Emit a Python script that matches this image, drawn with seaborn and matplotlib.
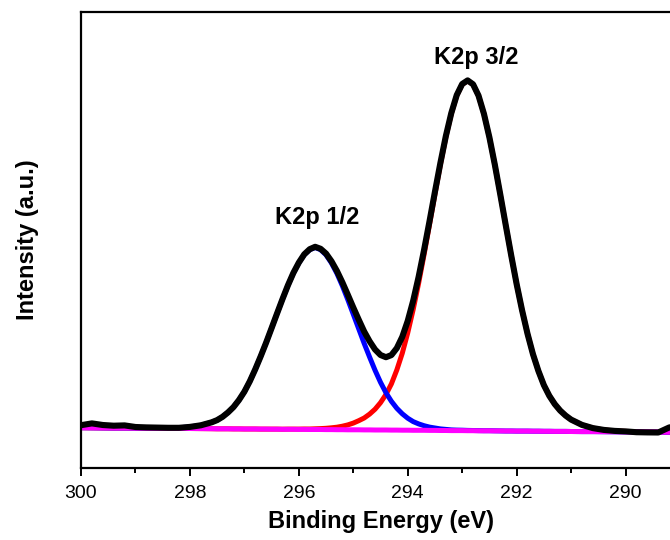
import numpy as np
import pandas as pd
import matplotlib
matplotlib.use("Agg")
import matplotlib.pyplot as plt
from matplotlib.ticker import MultipleLocator
import seaborn as sns

# Binding energy grid (eV): coarse in the flat tails, 0.1 eV across the K2p doublet
energy = np.round(np.r_[np.arange(300.0, 297.55, -0.2),
                        np.arange(297.5, 290.95, -0.1),
                        np.arange(290.8, 288.75, -0.2)], 1)

# Linear background under the doublet
background = [
    40.3, 40.2, 40.1, 40.0, 40.0, 39.9, 39.8, 39.7, 39.6, 39.5, 39.5, 39.4, 39.3,
    39.2, 39.2, 39.2, 39.1, 39.1, 39.0, 39.0, 39.0, 38.9, 38.9,
    38.8, 38.8, 38.7, 38.7, 38.7, 38.6, 38.6, 38.5, 38.5, 38.5,
    38.4, 38.4, 38.3, 38.3, 38.2, 38.2, 38.2, 38.1, 38.1, 38.0,
    38.0, 38.0, 37.9, 37.9, 37.8, 37.8, 37.7, 37.7, 37.7, 37.6,
    37.6, 37.5, 37.5, 37.4, 37.4, 37.4, 37.3, 37.3, 37.2, 37.2,
    37.2, 37.1, 37.1, 37.0, 37.0, 36.9, 36.9, 36.9, 36.8, 36.8,
    36.7, 36.7, 36.6, 36.6, 36.6, 36.5,
    36.4, 36.4, 36.3, 36.2, 36.1, 36.0, 35.9, 35.9, 35.8, 35.7, 35.6,
]

# K2p 1/2 fitted component (height above background)
k2p_half = [
    0.0, 0.0, 0.0, 0.0, 0.0, 0.0, 0.1, 0.2, 0.4, 0.7, 1.6, 3.3, 6.4,
    8.7, 12.0, 16.4, 21.8, 28.8, 37.3, 47.7, 59.7, 72.8, 86.5,
    101.0, 115.6, 130.1, 143.8, 156.2, 166.5, 174.7, 179.8, 182.0, 179.8,
    174.7, 166.5, 156.2, 143.8, 130.1, 115.6, 101.0, 86.5, 72.8, 59.7,
    47.7, 37.3, 28.8, 21.8, 16.4, 12.0, 8.7, 6.4, 4.6, 3.3,
    2.4, 1.6, 1.1, 0.7, 0.5, 0.4, 0.3, 0.2, 0.2, 0.1,
    0.1, 0.1, 0.0, 0.0, 0.0, 0.0, 0.0, 0.0, 0.0, 0.0,
    0.0, 0.0, 0.0, 0.0, 0.0, 0.0,
    0.0, 0.0, 0.0, 0.0, 0.0, 0.0, 0.0, 0.0, 0.0, 0.0, 0.0,
]

# K2p 3/2 fitted component (height above background)
k2p_three_half = [
    0.0, 0.0, 0.0, 0.0, 0.0, 0.0, 0.0, 0.0, 0.0, 0.0, 0.0, 0.0, 0.0,
    0.0, 0.0, 0.0, 0.0, 0.0, 0.0, 0.0, 0.0, 0.0, 0.0,
    0.1, 0.1, 0.1, 0.2, 0.2, 0.3, 0.4, 0.5, 0.7, 0.9,
    1.3, 1.8, 2.5, 3.5, 4.9, 6.7, 9.1, 11.9, 15.8, 20.8,
    27.3, 35.5, 46.2, 60.2, 77.0, 97.3, 120.8, 147.0, 175.7, 205.8,
    236.3, 266.0, 293.3, 316.8, 335.0, 346.2, 350.0, 346.2, 335.0, 316.8,
    293.3, 266.0, 236.3, 205.8, 175.7, 147.0, 120.8, 97.3, 77.0, 60.2,
    46.2, 35.5, 27.3, 20.8, 15.8, 11.9,
    6.7, 3.5, 1.8, 0.9, 0.5, 0.3, 0.2, 0.1, 0.1, 0.0, 0.0,
]

# Measured spectrum
measured = [
    42.8, 44.6, 43.0, 42.3, 42.6, 41.0, 40.6, 40.4, 40.2, 40.2, 41.1, 42.7, 45.7,
    47.9, 51.2, 55.6, 60.9, 67.9, 76.3, 86.7, 98.7, 111.7, 125.4,
    139.9, 154.5, 168.9, 182.7, 195.1, 205.4, 213.7, 218.8, 221.2, 219.2,
    214.4, 206.7, 197.0, 185.6, 173.2, 160.5, 148.3, 136.5, 126.7, 118.5,
    113.0, 110.8, 112.9, 119.9, 131.2, 147.1, 167.2, 191.1, 218.0, 246.7,
    276.3, 305.1, 331.9, 354.9, 372.9, 384.0, 387.6, 383.7, 372.4, 354.1,
    330.6, 303.2, 273.4, 242.8, 212.7, 183.9, 157.7, 134.2, 113.8, 97.0,
    82.9, 72.2, 63.9, 57.4, 52.4, 48.4,
    43.1, 39.9, 38.1, 37.1, 36.6, 35.8, 35.6, 35.5, 40.5, 42.5, 41.5,
]

x_ticks = [300, 298, 296, 294, 292, 290]
peak_labels = ["K2p 1/2", "K2p 3/2"]

bg = np.array(background)
df = pd.DataFrame({
    "energy": energy,
    "background": bg,
    "k2p_half": bg + np.array(k2p_half),
    "k2p_three_half": bg + np.array(k2p_three_half),
    "measured": np.array(measured),
})

sns.set_style("ticks")
plt.rcParams["font.family"] = ["Liberation Sans", "DejaVu Sans"]
plt.rcParams["text.color"] = "black"
plt.rcParams["axes.labelcolor"] = "black"
plt.rcParams["xtick.color"] = "black"

fig = plt.figure(figsize=(6.7, 5.4), dpi=100)
ax = fig.add_axes([81 / 670, 72 / 540, 599 / 670, 456 / 540])

common = dict(x="energy", ax=ax, estimator=None, sort=False, legend=False)
sns.lineplot(data=df, y="k2p_three_half", color="#FF0000", linewidth=3.6, **common)
sns.lineplot(data=df, y="k2p_half", color="#0000FF", linewidth=3.6, **common)
sns.lineplot(data=df, y="background", color="#FF00FF", linewidth=3.6, **common)
sns.lineplot(data=df, y="measured", color="#000000", linewidth=4.4, **common)

ax.set_xlim(300, 289)
ax.set_ylim(0, 456)
ax.set_xticks(x_ticks)
ax.set_xticklabels([str(t) for t in x_ticks])
ax.xaxis.set_minor_locator(MultipleLocator(1))
ax.set_yticks([])
ax.tick_params(axis="x", which="major", direction="out", length=6, width=1.4,
               labelsize=14, pad=6, color="black", labelcolor="black")
ax.tick_params(axis="x", which="minor", direction="out", length=3.5, width=1.4,
               color="black")

for side in ["left", "bottom", "top", "right"]:
    ax.spines[side].set_visible(True)
    ax.spines[side].set_linewidth(1.6)
    ax.spines[side].set_color("black")

ax.set_xlabel("Binding Energy (eV)", fontsize=17, fontweight="bold", labelpad=6,
              color="black")
ax.set_ylabel("Intensity (a.u.)", fontsize=17, fontweight="bold", labelpad=30,
              color="black")

ax.text(295.66, 244, peak_labels[0], ha="center", va="baseline",
        fontsize=17, fontweight="bold", color="black")
ax.text(292.74, 404, peak_labels[1], ha="center", va="baseline",
        fontsize=17, fontweight="bold", color="black")

fig.savefig("out.png", dpi=100)
